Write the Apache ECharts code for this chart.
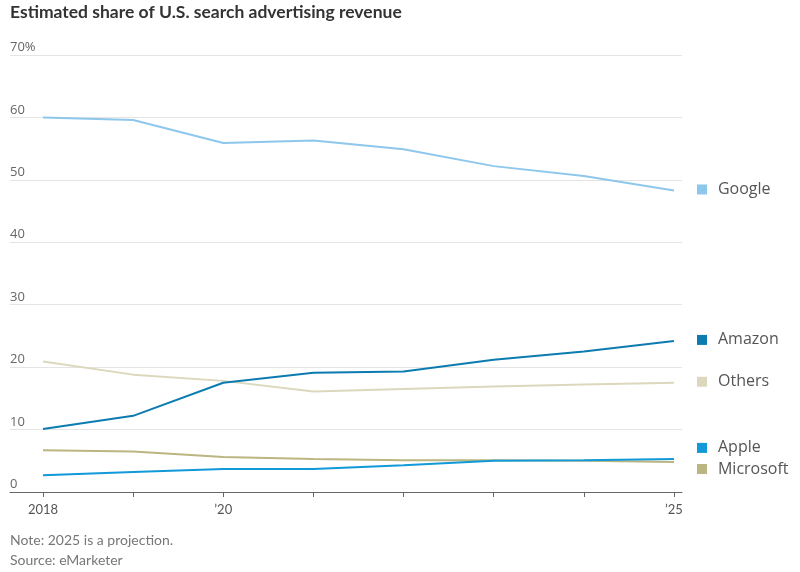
<!DOCTYPE html>
<html><head><meta charset="utf-8">
<script src="https://cdn.jsdelivr.net/npm/echarts@6/dist/echarts.min.js"></script>
<style>html,body{margin:0;padding:0;background:#fff}#c{width:800px;height:572px}</style>
</head><body><div id="c"></div>
<script>
const years = [2018, 2019, 2020, 2021, 2022, 2023, 2024, 2025];
const google = [60.0, 59.6, 55.9, 56.3, 54.9, 52.2, 50.6, 48.3];
const amazon = [10.1, 12.2, 17.5, 19.1, 19.3, 21.2, 22.5, 24.2];
const others = [20.9, 18.8, 17.8, 16.1, 16.5, 16.9, 17.2, 17.5];
const apple = [2.7, 3.2, 3.7, 3.7, 4.3, 5.0, 5.1, 5.3];
const microsoft = [6.7, 6.5, 5.6, 5.3, 5.1, 5.1, 5.0, 4.8];
const yTicks = [0, 10, 20, 30, 40, 50, 60, 70];
const xLabelYears = [2018, 2020, 2025];
const xLabelText = {2018: '2018', 2020: '\u201920', 2025: '\u201925'};

const lato = 'Lato, "Open Sans", sans-serif';
const pairs = arr => years.map((y, i) => [y, arr[i]]);

function mk(name, data, color, dy, z) {
  return {
    name, type: 'line', data: pairs(data), symbol: 'none', z,
    lineStyle: {color, width: 2}, itemStyle: {color},
    emphasis: {disabled: true},
    endLabel: {
      show: true, distance: 0, offset: [23, dy],
      formatter: '{s|}{t|' + name + '}',
      rich: {
        s: {width: 10, height: 10, backgroundColor: color},
        t: {fontSize: 16, color: '#555', fontFamily: '"Open Sans", sans-serif', padding: [0, 0, 0, 11]}
      }
    }
  };
}

const chart = echarts.init(document.getElementById('c'), null, {renderer: 'canvas'});
chart.setOption({
  animation: false,
  backgroundColor: '#fff',
  title: [
    {text: 'Estimated share of U.S. search advertising revenue', left: 10, top: 3, padding: 0,
     textStyle: {fontSize: 17.5, fontWeight: 'bold', color: '#333', fontFamily: lato}},
    {text: 'Note: 2025 is a projection.', left: 10, top: 533, padding: 0,
     textStyle: {fontSize: 14, fontWeight: 'normal', color: '#777', fontFamily: lato}},
    {text: 'Source: eMarketer', left: 10, top: 553, padding: 0,
     textStyle: {fontSize: 14, fontWeight: 'normal', color: '#777', fontFamily: lato}}
  ],
  grid: {left: 10, right: 118, top: 55, bottom: 80},
  xAxis: {
    type: 'value', min: 2017.634, max: 2025.089,
    splitLine: {show: false},
    axisLine: {show: true, lineStyle: {color: '#666', width: 1}},
    axisTick: {show: true, length: 5, lineStyle: {color: '#666'}, customValues: years},
    axisLabel: {
      customValues: xLabelYears, margin: 11,
      formatter: v => xLabelText[v] || '',
      fontSize: 13, color: '#555', fontFamily: lato
    }
  },
  yAxis: {
    type: 'value', min: 0, max: 70, interval: 10,
    axisLine: {show: false}, axisTick: {show: false},
    splitLine: {lineStyle: {color: '#e4e4e4', width: 1}},
    axisLabel: {
      inside: true, margin: 0, verticalAlign: 'bottom', padding: [0, 0, 1, 0],
      formatter: v => v === 70 ? '70%' : String(v),
      fontSize: 13, color: '#666', fontFamily: '"Open Sans", sans-serif',
      showMinLabel: true
    }
  },
  series: [
    mk('Others', others, '#dcd8bd', -1, 2),
    mk('Microsoft', microsoft, '#bbb582', 7, 3),
    mk('Google', google, '#8ec7ec', -1, 4),
    mk('Amazon', amazon, '#0b7bb0', -1, 5),
    mk('Apple', apple, '#1199d8', -11, 6)
  ]
});
</script></body></html>
